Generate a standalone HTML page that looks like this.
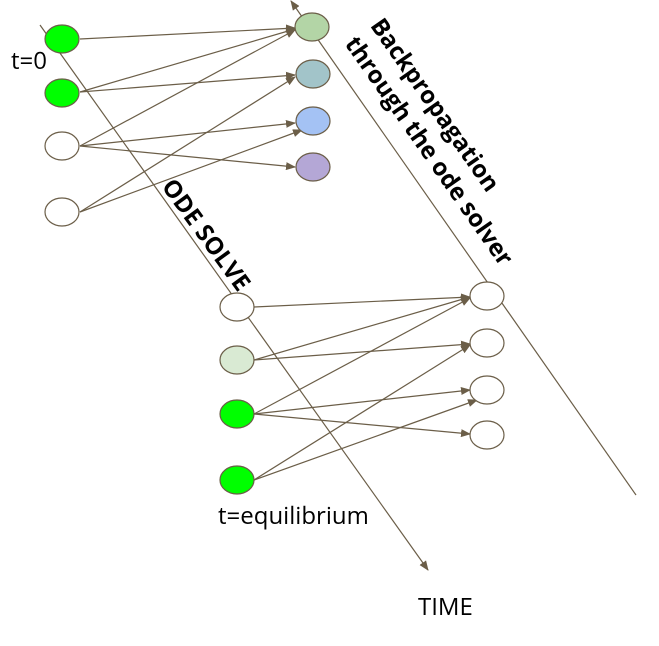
<!DOCTYPE html>
<html><head><style>body{margin:0;background:#fff}</style></head><body>
<svg width="659" height="641" viewBox="0 0 659 641" xmlns="http://www.w3.org/2000/svg" font-family="'Open Sans','DejaVu Sans','Liberation Sans',sans-serif">
<defs><marker id="a" markerWidth="10" markerHeight="8" refX="9" refY="4" orient="auto" markerUnits="userSpaceOnUse"><path d="M0,0 L10,4 L0,8z" fill="#6b5e48"/></marker></defs>
<g stroke="#6b5e48" stroke-width="1.2" fill="none">
<line x1="40" y1="25" x2="428" y2="570" marker-end="url(#a)"/>
<line x1="636" y1="495" x2="291" y2="1" marker-end="url(#a)"/>
<g marker-end="url(#a)">
<line x1="80" y1="39" x2="295" y2="28"/>
<line x1="80" y1="92" x2="295" y2="29"/>
<line x1="80" y1="92" x2="295" y2="75"/>
<line x1="80" y1="146" x2="295" y2="30"/>
<line x1="80" y1="146" x2="295" y2="123"/>
<line x1="80" y1="146" x2="295" y2="167"/>
<line x1="80" y1="212" x2="295" y2="77"/>
<line x1="80" y1="212" x2="302" y2="130"/>
<line x1="254" y1="307" x2="470" y2="297"/>
<line x1="254" y1="360" x2="470" y2="297"/>
<line x1="254" y1="360" x2="470" y2="344"/>
<line x1="254" y1="414" x2="470" y2="298"/>
<line x1="254" y1="414" x2="470" y2="390"/>
<line x1="254" y1="414" x2="470" y2="434"/>
<line x1="254" y1="480" x2="470" y2="345"/>
<line x1="254" y1="480" x2="477" y2="400"/>
</g>
</g>
<g stroke="#6b5e48" stroke-width="1.2">
<ellipse cx="62" cy="39" rx="17" ry="14" fill="#00ff00"/>
<ellipse cx="62" cy="93" rx="17" ry="14" fill="#00ff00"/>
<ellipse cx="62" cy="146" rx="17" ry="14" fill="#fff"/>
<ellipse cx="62" cy="212" rx="17" ry="14" fill="#fff"/>
<ellipse cx="312" cy="27" rx="17" ry="14" fill="#b3d5a6"/>
<ellipse cx="313" cy="74" rx="17" ry="14" fill="#a2c4c9"/>
<ellipse cx="313" cy="121" rx="17" ry="14" fill="#a4c2f4"/>
<ellipse cx="313" cy="167" rx="17" ry="14" fill="#b4a7d6"/>
<ellipse cx="237" cy="307" rx="17" ry="14" fill="#fff"/>
<ellipse cx="237" cy="360" rx="17" ry="14" fill="#d9ead3"/>
<ellipse cx="237" cy="414" rx="17" ry="14" fill="#00ff00"/>
<ellipse cx="237" cy="480" rx="17" ry="14" fill="#00ff00"/>
<ellipse cx="487" cy="296" rx="17" ry="14" fill="#fff"/>
<ellipse cx="487" cy="343" rx="17" ry="14" fill="#fff"/>
<ellipse cx="487" cy="390" rx="17" ry="14" fill="#fff"/>
<ellipse cx="487" cy="435" rx="17" ry="14" fill="#fff"/>
</g>
<g font-size="24" fill="#000">
<text x="11" y="69">t=0</text>
<text x="218" y="524">t=equilibrium</text>
<text x="418" y="615">TIME</text>
<text font-weight="bold" text-anchor="middle" transform="translate(206,235) rotate(54)" y="8">ODE SOLVE</text>
<text font-weight="bold" text-anchor="middle" transform="translate(435,105) rotate(55)" y="8">Backpropagation</text>
<text font-weight="bold" text-anchor="middle" transform="translate(429,151) rotate(55)" y="8">through the ode solver</text>
</g>
</svg>
</body></html>
